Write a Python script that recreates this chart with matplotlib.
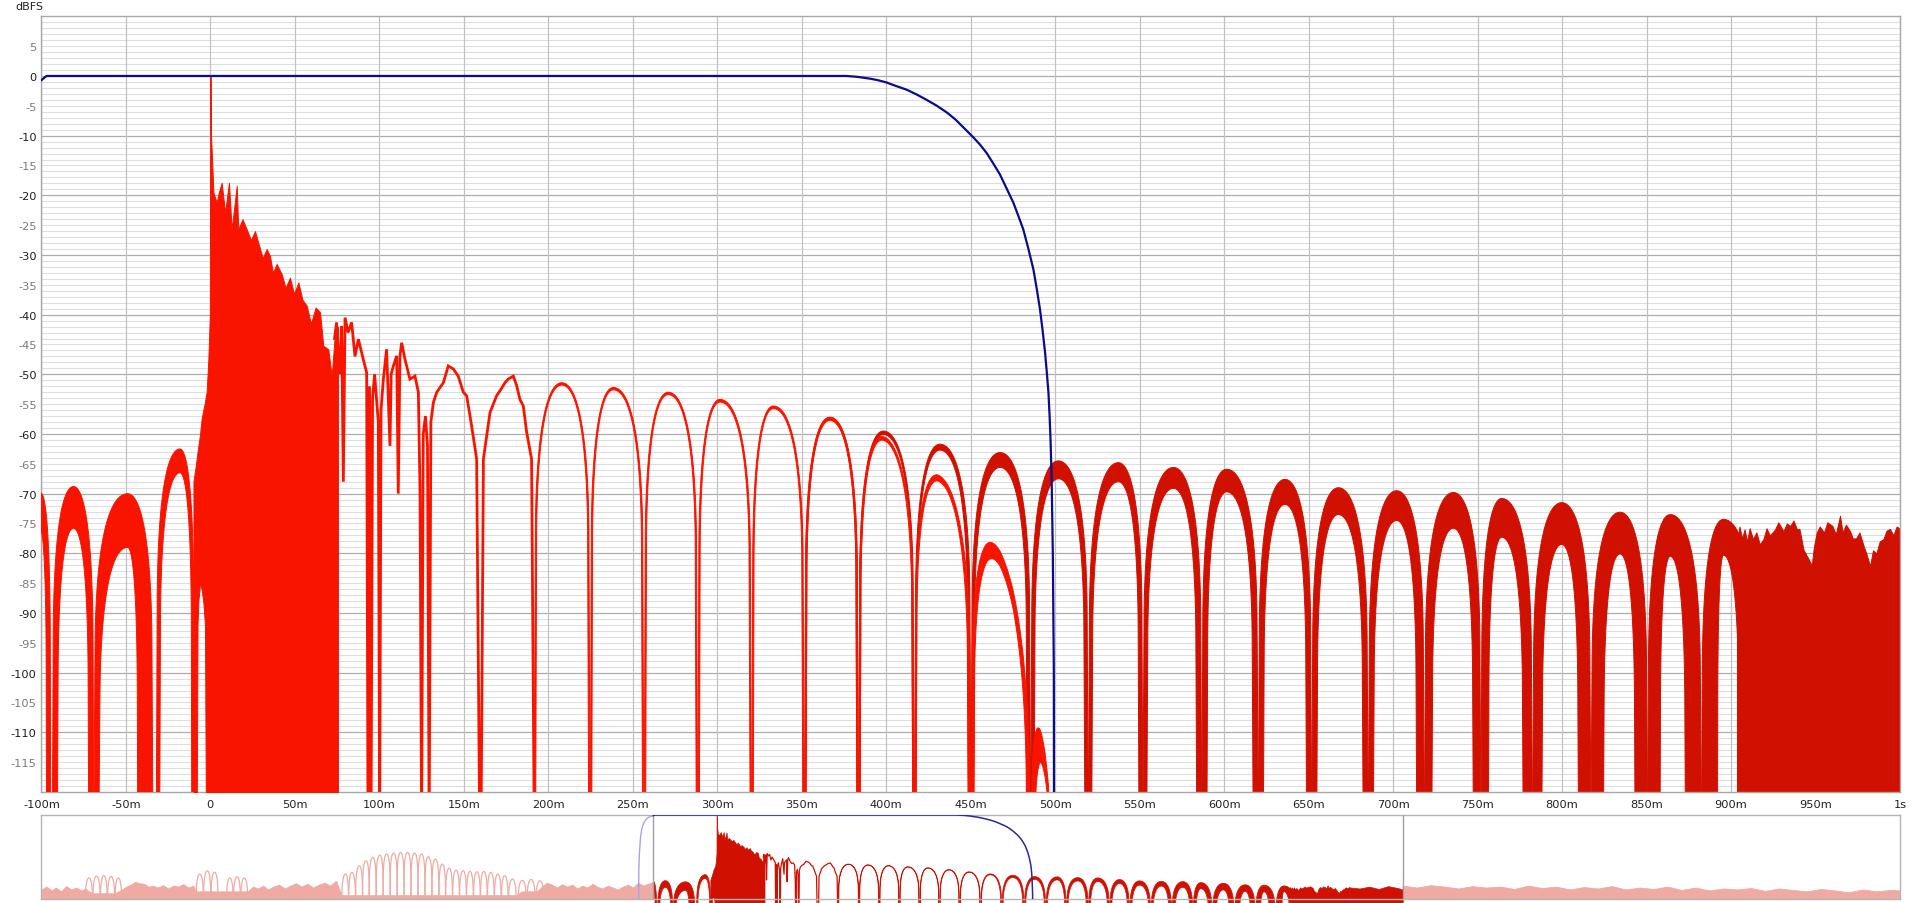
import numpy as np
import matplotlib
matplotlib.use("Agg")
import matplotlib.pyplot as plt
from matplotlib.patches import Rectangle

# ------------------------------------------------------------------
# DATA (time in ms, level in dBFS)
# ------------------------------------------------------------------
# blue window curve
win_t = [-123.5, -123, -122, -120, -118, -115, -110, -105, -100, -97,
         360, 376.6, 383, 390.4, 395, 400.3, 405, 412.1, 418, 423.9,
         430, 435.8, 441, 445.6, 451.6, 455.5, 459.4, 463, 467.3, 471,
         475.2, 478, 481.1, 484, 487.1, 489, 491.0, 492.5, 494.0, 495,
         496.0, 496.7, 497.3, 497.9, 498.6, 499.2, 499.6]
win_db = [-200, -60, -40, -22, -14, -8, -3.5, -1.6, -0.7, 0,
          0, 0, -0.15, -0.45, -0.7, -1.1, -1.6, -2.3, -3.1, -4.0,
          -5.0, -6.1, -7.3, -8.6, -10.3, -11.5, -12.9, -14.5, -16.5, -18.7,
          -21.2, -23.3, -25.7, -28.8, -32.4, -35.5, -39.1, -42.5, -46.3, -49.5,
          -53, -57, -61.4, -67.6, -80, -100, -200]

# arch-shaped lobes of the impulse response between its nulls
lobe_start_ms = [-108, -93.5, -69.0, -32.0, 191.7, 224.9, 256.8, 288.6, 320.5, 351.7,
                 383.7, 416.8, 450.2, 485.5, 519.6, 551.9, 586.8, 620.2, 651.8, 685.3,
                 718.5, 752.0, 782.5, 817.1, 850.6, 882.5]
lobe_peak_ms = [-101, -81, -49, -18, 208.0, 238.5, 271.0, 301.6, 333.2, 366.7,
                398.3, 431.8, 467.4, 501.9, 537.4, 570.0, 601.5, 636.0, 667.6, 702.1,
                735.7, 764.3, 799.8, 834.3, 864.0, 895.5]
lobe_peak_db = [-69.0, -68.8, -70.0, -62.5, -51.4, -52.2, -53.0, -54.2, -55.3, -57.2,
                -59.5, -61.7, -63.1, -64.5, -64.8, -65.6, -65.9, -67.6, -69.0, -69.5,
                -69.8, -70.8, -71.5, -73.1, -73.5, -74.3]
lobe_end_ms = [-94.5, -69.0, -34.0, -9.5, 224.7, 256.6, 288.4, 320.3, 351.5, 383.5,
               416.6, 450.2, 485.5, 519.6, 551.9, 586.8, 620.2, 651.8, 685.3, 718.5,
               752.0, 782.5, 817.1, 850.6, 882.5, 915.0]
lobe_thick_db = [6, 7, 9, 4, 0.4, 0.4, 0.4, 0.45, 0.45, 0.5,
                 0.6, 1.0, 2.5, 3.0, 3.2, 3.5, 3.8, 4.2, 4.5, 5.0,
                 6.0, 6.5, 7.0, 7.0, 7.0, 6.0]
lobe_leg_l_ms = [2.5, 3, 3, 2, 0.8, 0.8, 0.8, 0.8, 0.8, 0.8,
                 0.8, 0.8, 1.5, 2.0, 2.0, 2.3, 3.0, 3.0, 3.0, 3.0,
                 4.4, 4.4, 5.5, 7.4, 7.4, 9.5]
lobe_leg_r_ms = [2.5, 3, 9, 1.5, 0.8, 0.8, 0.8, 0.8, 0.8, 0.8,
                 0.8, 1.5, 2.0, 2.0, 2.3, 3.0, 3.0, 3.0, 3.0, 4.5,
                 4.5, 5.5, 7.4, 7.4, 9.5, 10.0]

# dense main arrival (solid region): upper and lower edges
dec_t = [-10.0, -9.0, -8.1, -7.6, -7.1, -6.1, -5.2, -4.2, -3.2, -2.6,
         -2.2, -1.2, -0.3, -0.05, 0.15, 0.35, 1.0, 1.4, 1.8, 3.7,
         5.0, 6.7, 8.7, 11.0, 12.6, 15.6, 16.5, 19.0, 21.5, 24.0,
         26.4, 29.4, 31.0, 33.3, 35.3, 37.0, 39.2, 42.2, 44.5, 47.1,
         49.5, 52.1, 54.5, 57.0, 59.5, 62.3, 64.9, 66.8, 69.8, 71.8,
         73.5, 75.5]
dec_hi = [-68.0, -66.0, -64.2, -63.0, -62.0, -60.0, -57.5, -56.0, -54.7, -53.5,
          -53.0, -47.5, -40.0, 0.0, 0.0, -9.8, -14.0, -16.8, -19.5, -21.2,
          -19.5, -17.9, -22.9, -17.9, -25.7, -18.4, -25.7, -24.0, -25.7, -27.5,
          -26.0, -29.0, -30.5, -29.0, -30.2, -33.0, -31.5, -33.2, -35.5, -33.8,
          -36.5, -34.6, -37.5, -38.5, -41.5, -38.8, -39.6, -45.2, -45.8, -50.3,
          -44.0, -42.0]
dec_lo = [-126, -126, -126, -92, -88, -85, -86, -88, -92, -126,
          -126, -126, -126, -126, -126, -126, -126, -126, -126, -126,
          -126, -126, -126, -126, -126, -126, -126, -126, -126, -126,
          -126, -126, -126, -126, -126, -126, -126, -126, -126, -126,
          -126, -126, -126, -126, -126, -126, -126, -126, -126, -126,
          -126, -126]

# irregular early reflections (line part)
mid_t = [73.5, 74.7, 76.5, 77.7, 78.7, 79.7, 81.5, 83.6, 85.6, 87.6,
         90.5, 92.5, 93.3, 94.2, 95.1, 96.0, 97.2, 99.4, 100.2, 101.0,
         102.4, 104.3, 106.3, 107.0, 108.3, 110.3, 111.2, 112.2, 113.2, 115.2,
         118.1, 121.1, 123.1, 124.1, 125.0, 126.0, 127.3, 128.5, 129.5, 130.5,
         132.0, 134.0, 137.9, 140.8, 143.8, 146.7, 149.7, 151.7, 154.6, 157.6,
         159.4, 160.2, 161.6, 165.5, 169.4, 172.0, 174.4, 176.3, 179.3, 181.3,
         183.2, 185.2, 187.2, 190.1, 191.7]
mid_db = [-44.0, -41.3, -50.0, -41.9, -68.0, -40.5, -43.0, -41.3, -47.0, -44.1,
          -47.5, -49.7, -126, -52.0, -126, -54.0, -50.0, -58.0, -126, -56.0,
          -50.8, -45.8, -62.0, -50.0, -48.6, -46.9, -70.0, -47.0, -44.7, -47.5,
          -50.8, -50.3, -53.0, -69.8, -126, -60.0, -57.0, -62.0, -126, -58.0,
          -54.7, -53.0, -51.4, -48.6, -49.1, -50.3, -53.0, -53.6, -58.6, -64.2,
          -126, -126, -64.2, -56.4, -53.6, -52.5, -51.4, -50.8, -50.3, -51.9,
          -54.2, -55.3, -59.7, -64.2, -126]

# noise tail (solid to the floor)
tail_t = [903.5, 905, 906.5, 908, 909.5, 911, 913, 915, 917, 919.2,
          921, 923, 926, 928, 931, 933, 935, 937, 939, 940.5,
          942.9, 945, 947.8, 949, 950.7, 952.5, 955, 957, 960, 962,
          964.5, 966, 968, 970.5, 972, 974, 976, 978.4, 980, 982.3,
          984, 986, 988, 990.2, 992, 994.1, 996, 998, 1000]
tail_db = [-78, -75.5, -77.5, -76, -78, -75.8, -77.6, -76.5, -78.5, -77.6,
           -75.8, -77, -76.0, -74.8, -76.3, -75, -75.4, -74.5, -76, -75.9,
           -79.4, -80.5, -82.0, -79, -76.5, -75.5, -76.5, -74.8, -75.4, -76.8,
           -73.7, -76.5, -75.2, -76.3, -77.5, -77.5, -76.5, -78.7, -80, -82.1,
           -79.5, -80.0, -78, -77.6, -76.2, -75.9, -77, -75.5, -75.9]

# overview strip: rest of the recording
ov_tail_t = [1000, 1015, 1030, 1045, 1060, 1075, 1083]
ov_tail_db = [-76, -77, -75, -77.5, -74.5, -76.5, -78]
ov_floor_l_t = [-1066, -1058, -1050, -1043, -1035, -1027, -1019, -1011, -1003, -997,
                -991, -985, -973, -962, -950, -939,
                -932, -925, -918, -911, -904, -897, -890, -882, -874, -866, -858, -850, -842, -834, -826,
                -822, -787, -774, -740,
                -732, -724, -716, -708, -700, -691, -682, -673, -664, -655, -646, -637, -628, -619, -610, -601,
                -592, -316,
                -308, -300, -292, -284, -276, -268, -260, -252, -244, -236, -228, -220, -212, -204,
                -196, -188, -180, -172, -164, -156, -148, -140, -132, -124, -116, -108, -100]
ov_floor_l_db = [-78, -75, -79, -76, -80, -74.5, -78, -76, -79, -77,
                 -80, -82, -82, -82, -82, -78,
                 -75, -73, -70, -71.5, -72, -75, -74, -76, -73.5, -77, -74, -75, -72.5, -76, -74,
                 -80, -80, -80, -80,
                 -75, -77, -74, -78, -75, -73, -77, -74, -71.5, -75, -72, -76, -73, -71, -74, -69,
                 -84, -84,
                 -80, -80, -80, -80, -75, -71, -73, -76, -72.5, -75, -73, -77, -74, -76,
                 -72, -75.5, -77, -74, -76, -78, -75, -73, -76, -71, -74, -72, -70]
ov_floor_r_t = [1083, 1105, 1127, 1149, 1171, 1193, 1215, 1237, 1259, 1281,
                1303, 1325, 1347, 1369, 1391, 1413, 1435, 1457, 1479, 1501,
                1523, 1545, 1567, 1589, 1611, 1633, 1655, 1677, 1699, 1721,
                1743, 1765, 1787, 1809, 1831, 1853, 1868]
ov_floor_r_db = [-74, -76, -73.5, -75, -77, -74.5, -76, -75, -77.5, -74,
                 -76.5, -75, -78, -75.5, -77, -74.5, -78, -76, -77.5, -75,
                 -78.5, -76, -79, -77, -78, -76.5, -79.5, -77, -78.5, -80,
                 -77.5, -79, -81, -78, -80, -78.5, -79]
ov_arch_start = [-997, -985, -973, -962, -950,
                 -822, -810, -798.5, -774, -763, -751.5,
                 -592, -581, -570, -559, -548.5, -537.5, -526.5, -515.5, -504.5, -493.5,
                 -482.5, -471.5, -460.5, -449.5, -438.5, -428, -417, -406, -395, -384,
                 -373, -362, -351, -340, -329,
                 -314, -300, -286]
ov_arch_peak_t = [-991, -979, -967.5, -956, -944.5,
                  -816, -804, -792.7, -768.5, -757, -745.7,
                  -586, -575.8, -564.1, -553.8, -542.9, -531.9, -521.0, -510.0, -499.0, -488.1,
                  -477.1, -466.1, -455.2, -444.2, -433.2, -422.3, -411.3, -400.3, -389.5, -378.6,
                  -367.6, -356.6, -345.7, -334.7, -322.4,
                  -307, -293, -279]
ov_arch_peak_db = [-66, -64, -63.6, -64.5, -66,
                   -62, -58.4, -60, -66, -64.7, -66,
                   -61.9, -60.2, -53.2, -48.0, -44.5, -42.1, -41.0, -40.0, -39.3, -39.3,
                   -40.0, -41.0, -43.8, -46.3, -51.5, -55.7, -57.7, -58.4, -59.1, -59.5,
                   -59.1, -60.2, -61.9, -63.7, -67.1,
                   -68.5, -67.6, -69]
ov_arch_end = [-985, -973, -962, -950, -939,
               -810, -798.5, -787, -763, -751.5, -740,
               -581, -570, -559, -548.5, -537.5, -526.5, -515.5, -504.5, -493.5, -482.5,
               -471.5, -460.5, -449.5, -438.5, -428, -417, -406, -395, -384, -373,
               -362, -351, -340, -329, -316,
               -300, -286, -272]

x_ticks = [-100, -50, 0, 50, 100, 150, 200, 250, 300, 350, 400, 450, 500,
           550, 600, 650, 700, 750, 800, 850, 900, 950, 1000]
x_tick_labels = ['-100m', '-50m', '0', '50m', '100m', '150m', '200m', '250m',
                 '300m', '350m', '400m', '450m', '500m', '550m', '600m', '650m',
                 '700m', '750m', '800m', '850m', '900m', '950m', '1s']
y_ticks = [5, 0, -5, -10, -15, -20, -25, -30, -35, -40, -45, -50, -55, -60,
           -65, -70, -75, -80, -85, -90, -95, -100, -105, -110, -115]

# ------------------------------------------------------------------
BRIGHT = '#F91400'
DARK = '#D01000'
PINK = '#F0AAA4'
NAVY = '#0C0C8A'
FLOOR = -126.0


def cubic(p0, p1, p2, p3, n=22):
    s = np.linspace(0.0, 1.0, n)[:, None]
    p0, p1, p2, p3 = (np.asarray(p, float) for p in (p0, p1, p2, p3))
    return ((1 - s) ** 3) * p0 + 3 * s * (1 - s) ** 2 * p1 + 3 * s ** 2 * (1 - s) * p2 + s ** 3 * p3


def arch(n0, pk, p, n1):
    L = pk - n0
    R = n1 - pk
    left = cubic((n0 + 0.04 * L, p - 24), (n0 + 0.08 * L, p - 8), (n0 + 0.45 * L, p), (pk, p))
    right = cubic((pk, p), (pk + 0.55 * R, p), (n1 - 0.08 * R, p - 8), (n1 - 0.04 * R, p - 24))
    return np.vstack([[n0, FLOOR], left, right[1:], [n1, FLOOR]])


def lobe_poly(i):
    outer = arch(lobe_start_ms[i], lobe_peak_ms[i], lobe_peak_db[i], lobe_end_ms[i])
    inner = arch(lobe_start_ms[i] + lobe_leg_l_ms[i], lobe_peak_ms[i],
                 lobe_peak_db[i] - lobe_thick_db[i], lobe_end_ms[i] - lobe_leg_r_ms[i])
    return np.vstack([outer, inner[::-1]])


def windowed(poly):
    q = poly.copy()
    q[:, 1] = q[:, 1] + np.interp(q[:, 0], win_t, win_db)
    return q


plt.rcParams['font.family'] = ['DejaVu Sans']
W, H = 1920, 904
fig = plt.figure(figsize=(W / 100, H / 100), dpi=100)
ax = fig.add_axes([41.4 / W, 1 - 793 / H, (1900 - 41.4) / W, (793 - 17.3) / H])
ov = fig.add_axes([41.4 / W, 1 - 900 / H, (1900 - 41.4) / W, (900 - 816) / H])

# ---------------- main panel ----------------
ax.set_xlim(-100, 1000)
ax.set_ylim(-120, 10)
for v in range(-119, 10):
    if v % 10:
        ax.axhline(v, color='#DEDEDE', lw=0.8, zorder=0)
for v in range(-110, 10, 10):
    ax.axhline(v, color='#ADADAD', lw=0.9, zorder=0.5)
for v in x_ticks:
    ax.axvline(v, color='#C2C2C2', lw=0.9, zorder=0.5)

n_lobes = len(lobe_start_ms)
# unwindowed response (visible where the window attenuates)
for i in range(n_lobes):
    if lobe_end_ms[i] > 380:
        pg = lobe_poly(i)
        ax.fill(pg[:, 0], pg[:, 1], facecolor=DARK, edgecolor=DARK, lw=0.7, zorder=2)
ax.fill_between(tail_t, FLOOR, tail_db, facecolor=DARK, edgecolor=DARK, lw=0.7, zorder=2)

# windowed response
for i in range(n_lobes):
    if lobe_start_ms[i] < 500:
        pg = windowed(lobe_poly(i))
        ax.fill(pg[:, 0], pg[:, 1], facecolor=BRIGHT, edgecolor=BRIGHT, lw=0.7, zorder=3)
ax.fill_between(dec_t, dec_lo, dec_hi, facecolor=BRIGHT, edgecolor=BRIGHT, lw=0.7, zorder=3)
ax.plot(mid_t, mid_db, color=BRIGHT, lw=2.0, zorder=3, solid_joinstyle='miter')

ax.plot(win_t, win_db, color=NAVY, lw=1.6, zorder=5, solid_joinstyle='round')

ax.set_xticks(x_ticks)
ax.set_xticklabels(x_tick_labels)
ax.set_yticks(y_ticks)
ax.set_yticklabels([str(v) for v in y_ticks])
ax.tick_params(axis='both', length=0, labelsize=8.2)
ax.tick_params(axis='x', pad=5.0, colors='#222222')
ax.tick_params(axis='y', pad=3.4)
for v, lab in zip(y_ticks, ax.get_yticklabels()):
    lab.set_color('#1E1E1E' if v % 10 == 0 else '#7A7A7A')
for sp in ax.spines.values():
    sp.set_color('#A8A8A8')
    sp.set_linewidth(1.0)
fig.text(15 / W, 1 - 7.5 / H, 'dBFS', ha='left', va='center', fontsize=8.0, color='#222222')

# ---------------- overview strip ----------------
ov.set_xlim(-1066, 1868)
ov.set_ylim(-88, 0)
ov.set_xticks([])
ov.set_yticks([])
for sp in ov.spines.values():
    sp.set_color('#B4B4B4')
    sp.set_linewidth(1.0)

ov.fill_between(ov_floor_l_t, FLOOR, ov_floor_l_db, facecolor=PINK, edgecolor=PINK, lw=0.6, zorder=1)
ov.fill_between(ov_floor_r_t, FLOOR, ov_floor_r_db, facecolor=PINK, edgecolor=PINK, lw=0.6, zorder=1)
for a0, pt, pd, a1 in zip(ov_arch_start, ov_arch_peak_t, ov_arch_peak_db, ov_arch_end):
    pa = arch(a0, pt, pd, a1)
    ov.plot(pa[:, 0], pa[:, 1], color=PINK, lw=0.9, zorder=1)

clip = Rectangle((-100, -200), 1183, 300, transform=ov.transData)
arts = []
for i in range(n_lobes):
    pg = lobe_poly(i)
    arts += ov.fill(pg[:, 0], pg[:, 1], facecolor=DARK, edgecolor=DARK, lw=0.5, zorder=2)
arts.append(ov.fill_between(dec_t, dec_lo, dec_hi, facecolor=DARK, edgecolor=DARK, lw=0.5, zorder=2))
arts += ov.plot(mid_t, mid_db, color=DARK, lw=0.9, zorder=2)
arts.append(ov.fill_between(tail_t, FLOOR, tail_db, facecolor=DARK, edgecolor=DARK, lw=0.5, zorder=2))
arts.append(ov.fill_between(ov_tail_t, FLOOR, ov_tail_db, facecolor=DARK, edgecolor=DARK, lw=0.5, zorder=2))
for a in arts:
    a.set_clip_path(clip)

ov.axvline(-100, color='#A0A0A0', lw=1.0, zorder=3)
ov.axvline(1083, color='#A0A0A0', lw=1.0, zorder=3)

wt = np.asarray(win_t)
wd = np.asarray(win_db)
m_out = wt <= -100
m_in = wt >= -100
ov.plot(wt[m_out], wd[m_out], color='#A6A6DC', lw=1.0, zorder=4)
ov.plot(wt[m_in], wd[m_in], color='#2A2A96', lw=1.1, zorder=4)

fig.savefig('out.png', dpi=100, facecolor='white')
